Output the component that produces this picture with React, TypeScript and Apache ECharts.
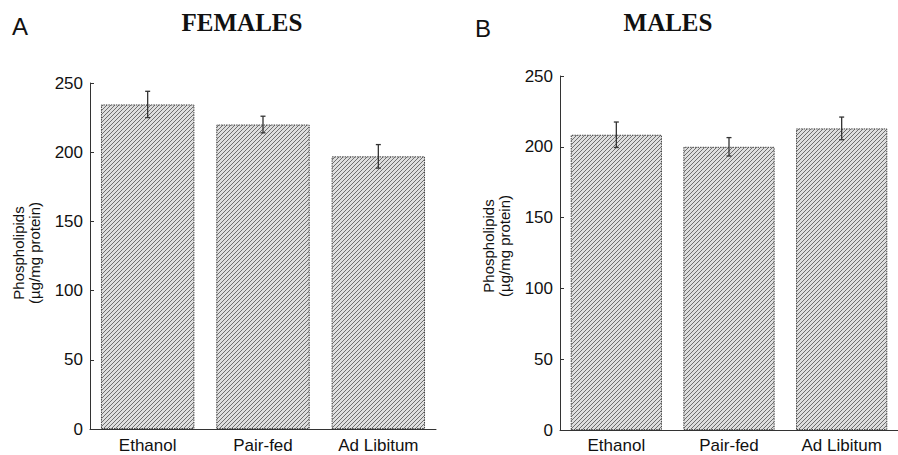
import React, { useEffect, useRef } from "react";
import * as echarts from "echarts";

const categories = ["Ethanol", "Pair-fed", "Ad Libitum"];
const femalesMean = [234.5, 220, 197];
const femalesErr = [9.5, 6, 8.5];
const malesMean = [208.5, 200, 213];
const malesErr = [9, 6.5, 8];
const yMin = 0;
const yMax = 250;
const yInterval = 50;

const SANS = "'Liberation Sans', Arial, Helvetica, sans-serif";
const SERIF = "'Liberation Serif', 'Times New Roman', serif";

function makePattern(): HTMLCanvasElement {
  const c = document.createElement("canvas");
  c.width = 4;
  c.height = 4;
  const ctx = c.getContext("2d")!;
  ctx.fillStyle = "#dedede";
  ctx.fillRect(0, 0, 4, 4);
  ctx.fillStyle = "#6e6e6e";
  for (let i = 0; i < 4; i++) {
    ctx.fillRect(i, 3 - i, 1, 1);
  }
  return c;
}

export default function App() {
  const ref = useRef<HTMLDivElement>(null);
  useEffect(() => {
    if (!ref.current) return;
    const chart = echarts.init(ref.current, undefined, { renderer: "svg" });
    const pattern = makePattern();

    const grids = [
      { left: 90, top: 83, width: 346, height: 346 },
      { left: 560, top: 76, width: 346, height: 354 },
    ];

    const xAxis = [0, 1].map((i) => ({
      type: "category" as const,
      gridIndex: i,
      data: categories,
      boundaryGap: true,
      axisLine: { lineStyle: { color: "#333", width: 1 } },
      axisTick: { inside: true, length: 5, lineStyle: { color: "#333" } },
      axisLabel: {
        color: "#111",
        fontSize: 17,
        fontFamily: SANS,
        margin: i === 0 ? 8 : 7,
        interval: 0,
      },
    }));

    const yAxis = [0, 1].map((i) => ({
      type: "value" as const,
      gridIndex: i,
      min: yMin,
      max: yMax,
      interval: yInterval,
      splitLine: { show: false },
      axisLine: { show: true, lineStyle: { color: "#333", width: 1 } },
      axisTick: { show: true, inside: true, length: 4, lineStyle: { color: "#333" } },
      axisLabel: { color: "#111", fontSize: 17, fontFamily: SANS, margin: 7 },
    }));

    const barSeries = (idx: number, values: number[]) => ({
      type: "bar" as const,
      xAxisIndex: idx,
      yAxisIndex: idx,
      data: values,
      barCategoryGap: "19%",
      itemStyle: {
        color: { image: pattern, repeat: "repeat" },
        borderColor: "#444",
        borderWidth: 1,
        borderType: [1.5, 1],
      },
      emphasis: { disabled: true },
    });

    const errSeries = (idx: number, values: number[], errs: number[]) => ({
      type: "custom" as const,
      xAxisIndex: idx,
      yAxisIndex: idx,
      data: values.map((v, i) => [i, v - errs[i], v + errs[i]]),
      z: 10,
      renderItem: (params: any, api: any) => {
        const x = api.value(0);
        const lo = api.coord([x, api.value(1)]);
        const hi = api.coord([x, api.value(2)]);
        const cap = 2.5;
        const style = { stroke: "#333", lineWidth: 1.3 };
        return {
          type: "group",
          children: [
            { type: "line", shape: { x1: lo[0], y1: lo[1], x2: hi[0], y2: hi[1] }, style },
            { type: "line", shape: { x1: hi[0] - cap, y1: hi[1], x2: hi[0] + cap, y2: hi[1] }, style },
            { type: "line", shape: { x1: lo[0] - cap, y1: lo[1], x2: lo[0] + cap, y2: lo[1] }, style },
          ],
        };
      },
    });

    const ylabel = (x: number, y: number) => ({
      type: "text",
      x,
      y,
      rotation: Math.PI / 2,
      style: {
        text: "Phospholipids\n(µg/mg protein)",
        font: `15px ${SANS}`,
        fill: "#111",
        align: "center",
        verticalAlign: "middle",
        lineHeight: 16,
      },
    });

    chart.setOption({
      animation: false,
      grid: grids,
      xAxis,
      yAxis,
      series: [
        barSeries(0, femalesMean),
        errSeries(0, femalesMean, femalesErr),
        barSeries(1, malesMean),
        errSeries(1, malesMean, malesErr),
      ],
      graphic: [
        {
          type: "text",
          x: 242,
          y: 10,
          style: { text: "FEMALES", font: `bold 25px ${SERIF}`, fill: "#111", align: "center", verticalAlign: "top" },
        },
        {
          type: "text",
          x: 668,
          y: 10,
          style: { text: "MALES", font: `bold 25px ${SERIF}`, fill: "#111", align: "center", verticalAlign: "top" },
        },
        {
          type: "text",
          x: 12,
          y: 14,
          style: { text: "A", font: `24px ${SANS}`, fill: "#111", align: "left", verticalAlign: "top" },
        },
        {
          type: "text",
          x: 475,
          y: 16,
          style: { text: "B", font: `24px ${SANS}`, fill: "#111", align: "left", verticalAlign: "top" },
        },
        ylabel(26, 253),
        ylabel(496, 246),
      ],
    });
    return () => chart.dispose();
  }, []);
  return (
    <div
      ref={ref}
      style={{ position: "absolute", left: 0, top: 0, width: 898, height: 455, background: "#fff" }}
    />
  );
}
